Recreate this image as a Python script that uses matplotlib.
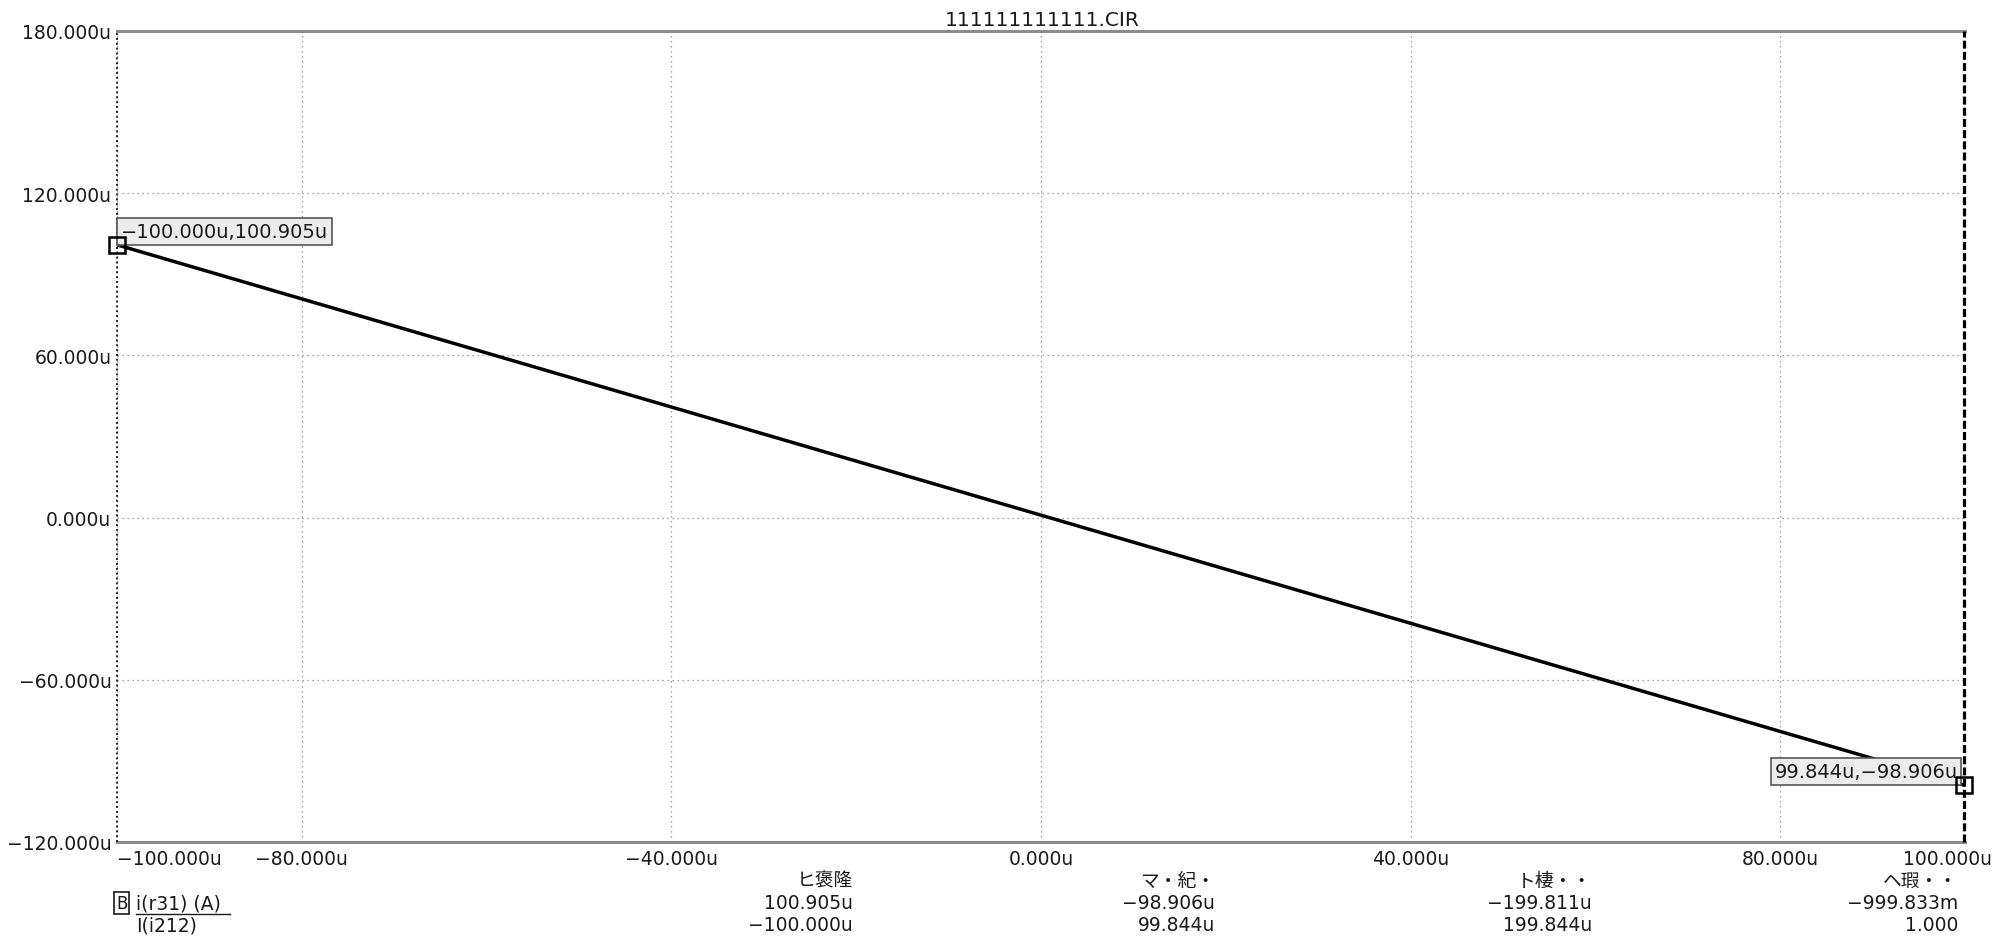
import matplotlib
matplotlib.use("Agg")
import matplotlib.pyplot as plt
from matplotlib.lines import Line2D
from matplotlib.transforms import ScaledTranslation

plt.rcParams['font.family'] = ['DejaVu Sans', 'Noto Sans CJK JP']

# trace i(r31) vs I(i212)
sweep_u = [-100.0, -80.0, -60.0, -40.0, -20.0, 0.0, 20.0, 40.0, 60.0, 80.0, 99.844]
current_u = [100.905, 80.9, 60.9, 40.9, 20.9, 0.9, -19.1, -39.1, -59.1, -79.1, -98.906]

xticks = [-100, -80, -40, 0, 40, 80, 100]
yticks = [-120, -60, 0, 60, 120, 180]

# cursor readout
cursor1 = (-100.000, 100.905)
cursor2 = (99.844, -98.906)
col_heads = ["ヒ褒隆", "マ・紀・", "ト棲・・", "ヘ瑕・・"]
row_y = ["100.905u", "−98.906u", "−199.811u", "−999.833m"]
row_x = ["−100.000u", "99.844u", "199.844u", "1.000"]

W, H = 1997, 937
fig = plt.figure(figsize=(W / 100, H / 100), dpi=100)
ax = fig.add_axes([117 / W, 1 - 843 / H, (1965 - 117) / W, (843 - 32) / H])

def fmt(v):
    s = "{:.3f}u".format(v)
    return s.replace("-", "−")

ax.plot(sweep_u, current_u, color='black', lw=2.5, zorder=3)

ax.set_xlim(-100, 100)
ax.set_ylim(-120, 180)
ax.set_xticks(xticks)
ax.set_xticklabels([fmt(v) for v in xticks])
ax.set_yticks(yticks)
ax.set_yticklabels([fmt(v) for v in yticks])
ax.tick_params(length=0, labelsize=13.5, colors='#1a1a1a')
ax.tick_params(axis='y', pad=4)
ax.tick_params(axis='x', pad=5)
ax.grid(True, color='#888888', lw=0.9, linestyle=(0, (1, 3)))

labs = ax.get_xticklabels()
labs[0].set_horizontalalignment('left')
labs[-1].set_horizontalalignment('right')
labs[-1].set_transform(labs[-1].get_transform() + ScaledTranslation(0.27, 0, fig.dpi_scale_trans))

for side in ['top', 'bottom']:
    ax.spines[side].set_color('#8c8c8c')
    ax.spines[side].set_linewidth(2.2)
ax.spines['left'].set_visible(False)
ax.spines['right'].set_visible(False)

# cursor lines
ax.axvline(cursor1[0], color='#222222', lw=1.4, linestyle=(0, (1, 1.5)), zorder=4, clip_on=False)
ax.axvline(cursor2[0], color='black', lw=2.3, linestyle=(0, (2.5, 1)), zorder=4, clip_on=False)

# cursor markers + labels
for c in [cursor1, cursor2]:
    ax.plot(c[0], c[1], marker='s', ms=12, mfc='none', mec='black', mew=1.8,
            zorder=6, clip_on=False)

box = dict(boxstyle='square,pad=0.2', fc='#ececec', ec='#555555', lw=1.2)
ax.annotate(fmt(cursor1[0]) + "," + fmt(cursor1[1]), xy=cursor1, xytext=(4, 4),
            textcoords='offset pixels', ha='left', va='bottom', fontsize=14,
            color='#1a1a1a', bbox=box, zorder=5)
ax.annotate(fmt(cursor2[0]) + "," + fmt(cursor2[1]), xy=cursor2, xytext=(-6, 4),
            textcoords='offset pixels', ha='right', va='bottom', fontsize=14,
            color='#1a1a1a', bbox=box, zorder=5)

# title
fig.text(1042 / W, 1 - 20 / H, "111111111111.CIR", ha='center', va='center',
         fontsize=14.5, color='#1a1a1a')

# readout table below the plot
col_x = [853, 1215, 1592, 1958]
for i in range(4):
    fig.text(col_x[i] / W, 1 - 881 / H, col_heads[i], ha='right', va='center', fontsize=13.5, color='#1a1a1a')
    fig.text(col_x[i] / W, 1 - 904 / H, row_y[i], ha='right', va='center', fontsize=13.5, color='#1a1a1a')
    fig.text(col_x[i] / W, 1 - 926 / H, row_x[i], ha='right', va='center', fontsize=13.5, color='#1a1a1a')

fig.text(116 / W, 1 - 904 / H, "B", ha='left', va='center', fontsize=12, color='#1a1a1a',
         bbox=dict(boxstyle='square,pad=0.1', fc='none', ec='#1a1a1a', lw=1.2))
fig.text(136 / W, 1 - 904 / H, "i(r31) (A)", ha='left', va='center', fontsize=13.5, color='#1a1a1a')
fig.add_artist(Line2D([136 / W, 230 / W], [1 - 915 / H, 1 - 915 / H], color='#1a1a1a', lw=1))
fig.text(136 / W, 1 - 926 / H, "I(i212)", ha='left', va='center', fontsize=13.5, color='#1a1a1a')

fig.savefig("out.png", dpi=100)
